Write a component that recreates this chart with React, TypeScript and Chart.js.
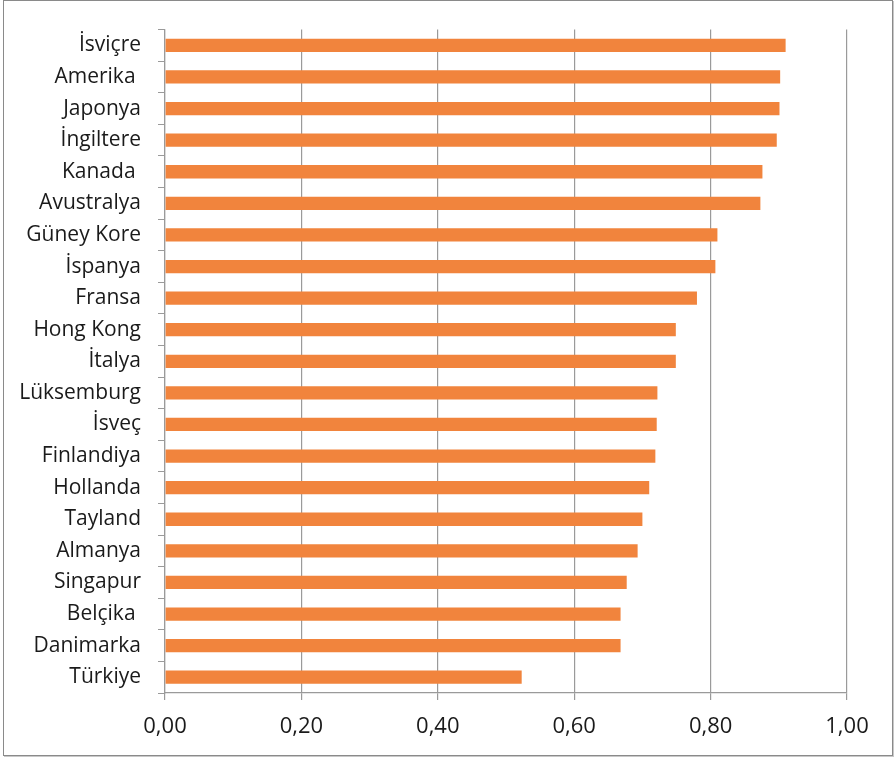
import React, { useEffect, useRef } from "react";
import { Chart, registerables } from "chart.js";

Chart.register(...registerables);

const countries = [
  "İsviçre",
  "Amerika ",
  "Japonya",
  "İngiltere",
  "Kanada ",
  "Avustralya",
  "Güney Kore",
  "İspanya",
  "Fransa",
  "Hong Kong",
  "İtalya",
  "Lüksemburg",
  "İsveç",
  "Finlandiya",
  "Hollanda",
  "Tayland",
  "Almanya",
  "Singapur",
  "Belçika ",
  "Danimarka",
  "Türkiye",
];

const scores = [
  0.91, 0.902, 0.901, 0.897, 0.876, 0.873, 0.81, 0.807, 0.78, 0.749, 0.749,
  0.722, 0.721, 0.719, 0.71, 0.7, 0.693, 0.677, 0.668, 0.668, 0.523,
];

const xMin = 0;
const xMax = 1;
const xStep = 0.2;

const FONT = "'Open Sans', 'DejaVu Sans', sans-serif";

export default function App() {
  const ref = useRef<HTMLCanvasElement | null>(null);

  useEffect(() => {
    if (!ref.current) return;
    const chart = new Chart(ref.current, {
      type: "bar",
      data: {
        labels: countries,
        datasets: [
          {
            data: scores,
            backgroundColor: "#F1843D",
            borderWidth: 0,
            barPercentage: 0.42,
            categoryPercentage: 1,
          },
        ],
      },
      options: {
        indexAxis: "y",
        responsive: false,
        animation: false,
        layout: { padding: { top: 25, right: 48, left: 0, bottom: 0 } },
        plugins: {
          legend: { display: false },
          tooltip: { enabled: false },
        },
        scales: {
          x: {
            min: xMin,
            max: xMax,
            ticks: {
              stepSize: xStep,
              padding: 14,
              color: "#1a1a1a",
              font: { family: FONT, size: 22 },
              callback: (v: any) => Number(v).toFixed(2).replace(".", ","),
            },
            grid: {
              color: "#9a9a9a",
              lineWidth: 1.2,
              tickLength: 7,
              drawTicks: true,
            },
            border: { color: "#9a9a9a", width: 1.2 },
            afterFit: (scale: any) => {
              scale.height = 64;
            },
          },
          y: {
            ticks: {
              padding: 17,
              color: "#1a1a1a",
              font: { family: FONT, size: 21 },
              autoSkip: false,
            },
            grid: {
              drawOnChartArea: false,
              drawTicks: true,
              tickLength: 7,
              color: "#9a9a9a",
              offset: true,
            },
            border: { color: "#9a9a9a", width: 1.2 },
            afterFit: (scale: any) => {
              scale.width = 165;
            },
          },
        },
      },
    });
    return () => chart.destroy();
  }, []);

  return (
    <div
      style={{
        position: "absolute",
        left: 0,
        top: 0,
        width: 895,
        height: 757,
        background: "#fff",
      }}
    >
      <div
        style={{
          position: "absolute",
          left: 3,
          top: 0,
          width: 888,
          height: 754,
          border: "1px solid #8a8a8a",
          boxShadow: "1px 1px 0 #c8c8c8",
        }}
      />
      <canvas
        ref={ref}
        width={895}
        height={757}
        style={{ position: "absolute", left: 0, top: 0 }}
      />
    </div>
  );
}
